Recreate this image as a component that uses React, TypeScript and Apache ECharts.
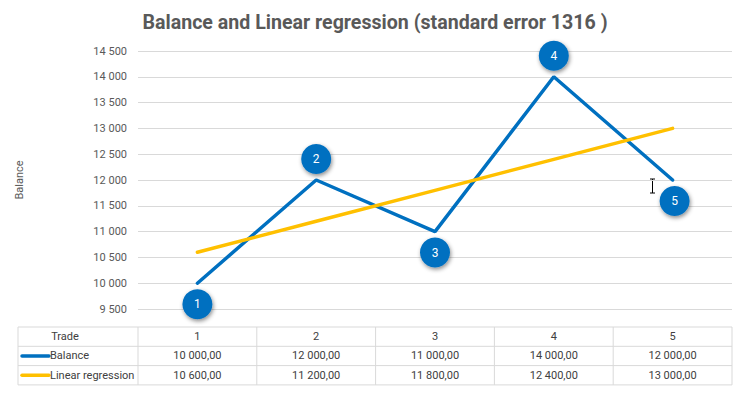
import React, { useEffect, useRef } from "react";
import * as echarts from "echarts";

const title = "Balance and Linear regression (standard error 1316 )";
const trades = ["1", "2", "3", "4", "5"];
const balance = [10000, 12000, 11000, 14000, 12000];
const regression = [10600, 11200, 11800, 12400, 13000];
const labelBelow = [true, false, true, false, true];
const yMin = 9500;
const yMax = 14500;
const yStep = 500;

const BLUE = "#0070C0";
const GOLD = "#FFC000";
const FONT = "Roboto";

const W = 750;
const H = 394;
const gridLeft = 138;
const gridRight = 18;
const gridTop = 51;
const gridBottomY = 309;
const tableLeft = 18;
const tableTop = 327;
const rowH = 19.3;

function fmtInt(v: number): string {
  const s = Math.round(v).toString();
  return s.replace(/\B(?=(\d{3})+(?!\d))/g, " ");
}
function fmtDec(v: number): string {
  const [i, d] = v.toFixed(2).split(".");
  return fmtInt(Number(i)) + "," + d;
}

export default function App() {
  const ref = useRef<HTMLDivElement>(null);
  useEffect(() => {
    if (!ref.current) return;
    const chart = echarts.init(ref.current, undefined, { renderer: "svg" });
    const plotW = W - gridLeft - gridRight;
    const colW = plotW / trades.length;
    const tableRight = gridLeft + plotW;
    const tableBottom = tableTop + rowH * 3;
    const lineColor = "#d9d9d9";
    const textColor = "#404040";

    const graphics: any[] = [];
    for (let r = 0; r <= 3; r++) {
      graphics.push({
        type: "line",
        shape: { x1: tableLeft, y1: tableTop + r * rowH, x2: tableRight, y2: tableTop + r * rowH },
        style: { stroke: lineColor, lineWidth: 1 },
        silent: true,
      });
    }
    const colXs = [tableLeft, gridLeft];
    for (let c = 1; c <= trades.length; c++) colXs.push(gridLeft + c * colW);
    colXs.forEach((x) => {
      graphics.push({
        type: "line",
        shape: { x1: x, y1: tableTop, x2: x, y2: tableBottom },
        style: { stroke: lineColor, lineWidth: 1 },
        silent: true,
      });
    });
    const rows = [
      { name: "Trade", vals: trades, key: null as string | null },
      { name: "Balance", vals: balance.map(fmtDec), key: BLUE },
      { name: "Linear regression", vals: regression.map(fmtDec), key: GOLD },
    ];
    rows.forEach((row, r) => {
      const cy = tableTop + r * rowH + rowH / 2;
      if (row.key) {
        graphics.push({
          type: "line",
          shape: { x1: 22, y1: cy, x2: 49, y2: cy },
          style: { stroke: row.key, lineWidth: 3.5, lineCap: "round" },
          silent: true,
        });
        graphics.push({
          type: "text",
          x: 50,
          y: cy,
          style: { text: row.name, fill: textColor, font: `11px ${FONT}`, textAlign: "left", textVerticalAlign: "middle" },
          silent: true,
        });
      } else {
        graphics.push({
          type: "text",
          x: 65,
          y: cy,
          style: { text: row.name, fill: textColor, font: `11px ${FONT}`, textAlign: "center", textVerticalAlign: "middle" },
          silent: true,
        });
      }
      row.vals.forEach((v, c) => {
        graphics.push({
          type: "text",
          x: gridLeft + colW * (c + 0.5),
          y: cy,
          style: { text: v, fill: textColor, font: `11px ${FONT}`, textAlign: "center", textVerticalAlign: "middle" },
          silent: true,
        });
      });
    });
    graphics.push({
      type: "group",
      silent: true,
      children: [
        { type: "line", shape: { x1: 652.5, y1: 179, x2: 652.5, y2: 193 }, style: { stroke: "#000", lineWidth: 1 } },
        { type: "line", shape: { x1: 650, y1: 179, x2: 655, y2: 179 }, style: { stroke: "#000", lineWidth: 1 } },
        { type: "line", shape: { x1: 650, y1: 193, x2: 655, y2: 193 }, style: { stroke: "#000", lineWidth: 1 } },
      ],
    });

    const bubbleData = balance.map((v, i) => ({
      value: [trades[i], v],
      symbolOffset: [i === 4 ? 2 : 0, labelBelow[i] ? 21 : -21],
      label: { formatter: trades[i] },
    }));

    chart.setOption({
      animation: false,
      title: {
        text: title,
        left: "center",
        top: 7,
        textStyle: { fontFamily: FONT, fontWeight: "bold", fontSize: 19.6, color: "#595959" },
      },
      grid: { left: gridLeft, right: gridRight, top: gridTop, bottom: H - gridBottomY, containLabel: false },
      xAxis: {
        type: "category",
        data: trades,
        boundaryGap: true,
        axisLine: { show: false },
        axisTick: { show: false },
        axisLabel: { show: false },
        splitLine: { show: false },
      },
      yAxis: {
        type: "value",
        min: yMin,
        max: yMax,
        interval: yStep,
        name: "Balance",
        nameLocation: "middle",
        nameRotate: 90,
        nameGap: 113,
        nameTextStyle: { fontFamily: FONT, fontSize: 11, color: "#595959" },
        axisLine: { show: false },
        axisTick: { show: false },
        axisLabel: { formatter: (v: number) => fmtInt(v), fontFamily: FONT, fontSize: 11, color: "#595959", margin: 11 },
        splitLine: { lineStyle: { color: lineColor, width: 1 } },
      },
      series: [
        {
          name: "Balance",
          type: "line",
          data: balance,
          symbol: "none",
          lineStyle: { color: BLUE, width: 3.5, cap: "round" },
          z: 2,
        },
        {
          name: "Linear regression",
          type: "line",
          data: regression,
          symbol: "none",
          lineStyle: { color: GOLD, width: 3.5, cap: "round" },
          z: 3,
        },
        {
          name: "labels",
          type: "scatter",
          data: bubbleData,
          symbol: "circle",
          symbolSize: 30,
          clip: false,
          itemStyle: { color: BLUE, opacity: 1, shadowBlur: 4, shadowColor: "rgba(0,0,0,0.45)", shadowOffsetX: 1, shadowOffsetY: 2 },
          label: { show: true, position: "inside", color: "#fff", fontFamily: FONT, fontSize: 12 },
          z: 4,
        },
      ],
      graphic: graphics,
    });
    return () => chart.dispose();
  }, []);
  return <div ref={ref} style={{ width: W, height: H, position: "absolute", left: 0, top: 0 }} />;
}
